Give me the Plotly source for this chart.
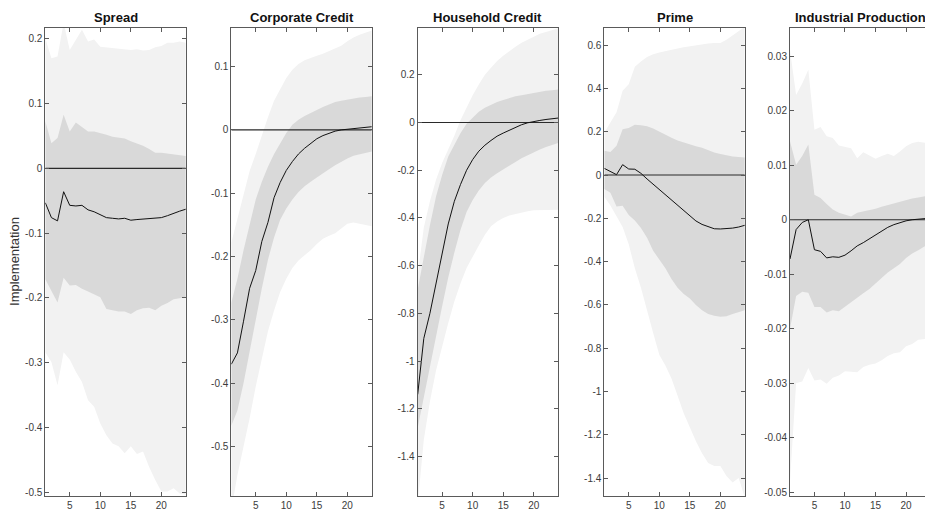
import plotly.graph_objects as go

# ---------------- data ----------------
horizon = list(range(1, 25))

panel_titles = ["Spread", "Corporate Credit", "Household Credit", "Prime", "Industrial Production"]
y_label = "Implementation"

spread_med = [-0.053, -0.076, -0.081, -0.036, -0.057, -0.058, -0.057, -0.064, -0.067, -0.072, -0.076, -0.077,
              -0.078, -0.077, -0.080, -0.079, -0.078, -0.078, -0.077, -0.076, -0.073, -0.069, -0.066, -0.063]
spread_in_up = [0.073, 0.039, 0.047, 0.083, 0.057, 0.071, 0.064, 0.057, 0.057, 0.055, 0.052, 0.049,
                0.048, 0.046, 0.042, 0.039, 0.035, 0.030, 0.024, 0.024, 0.023, 0.021, 0.020, 0.019]
spread_in_lo = [-0.171, -0.189, -0.207, -0.169, -0.181, -0.180, -0.186, -0.190, -0.194, -0.199, -0.217, -0.219,
                -0.221, -0.221, -0.225, -0.219, -0.216, -0.215, -0.219, -0.212, -0.208, -0.202, -0.200, -0.199]
spread_out_up = [0.201, 0.170, 0.173, 0.225, 0.183, 0.198, 0.214, 0.196, 0.199, 0.188, 0.187, 0.187,
                 0.186, 0.184, 0.183, 0.184, 0.182, 0.183, 0.187, 0.189, 0.194, 0.194, 0.196, 0.194]
spread_out_lo = [-0.284, -0.299, -0.335, -0.284, -0.295, -0.314, -0.330, -0.358, -0.368, -0.394, -0.412, -0.425,
                 -0.429, -0.440, -0.429, -0.441, -0.437, -0.461, -0.481, -0.499, -0.499, -0.494, -0.502, -0.504]

corp_med = [-0.370, -0.352, -0.302, -0.250, -0.222, -0.176, -0.146, -0.107, -0.083, -0.064, -0.050, -0.038,
            -0.029, -0.021, -0.014, -0.009, -0.005, -0.002, 0.000, 0.001, 0.002, 0.003, 0.004, 0.005]
corp_in_up = [-0.273, -0.235, -0.190, -0.148, -0.110, -0.082, -0.058, -0.038, -0.022, -0.005, 0.008, 0.016,
              0.022, 0.027, 0.032, 0.036, 0.040, 0.044, 0.046, 0.048, 0.050, 0.051, 0.052, 0.053]
corp_in_lo = [-0.467, -0.443, -0.400, -0.350, -0.300, -0.250, -0.205, -0.170, -0.142, -0.124, -0.110, -0.098,
              -0.089, -0.082, -0.075, -0.068, -0.062, -0.056, -0.050, -0.045, -0.041, -0.038, -0.036, -0.034]
corp_out_up = [-0.178, -0.140, -0.100, -0.065, -0.038, -0.008, 0.020, 0.046, 0.065, 0.082, 0.095, 0.104,
               0.110, 0.114, 0.117, 0.120, 0.124, 0.128, 0.133, 0.140, 0.146, 0.150, 0.154, 0.157]
corp_out_lo = [-0.600, -0.545, -0.500, -0.455, -0.405, -0.360, -0.318, -0.285, -0.256, -0.235, -0.218, -0.206,
               -0.198, -0.190, -0.180, -0.172, -0.167, -0.163, -0.155, -0.148, -0.146, -0.148, -0.150, -0.152]

hh_med = [-1.140, -0.905, -0.800, -0.675, -0.550, -0.425, -0.330, -0.260, -0.200, -0.155, -0.120, -0.095,
          -0.075, -0.057, -0.044, -0.032, -0.020, -0.009, -0.001, 0.005, 0.009, 0.013, 0.016, 0.019]
hh_in_up = [-0.700, -0.560, -0.430, -0.310, -0.220, -0.142, -0.090, -0.045, -0.005, 0.022, 0.045, 0.062,
            0.075, 0.086, 0.095, 0.103, 0.110, 0.115, 0.120, 0.125, 0.129, 0.133, 0.136, 0.139]
hh_in_lo = [-1.280, -1.160, -1.020, -0.900, -0.770, -0.650, -0.545, -0.450, -0.375, -0.325, -0.285, -0.253,
            -0.230, -0.212, -0.195, -0.180, -0.165, -0.150, -0.137, -0.125, -0.113, -0.102, -0.093, -0.086]
hh_out_up = [-0.640, -0.440, -0.330, -0.240, -0.170, -0.114, -0.055, 0.010, 0.065, 0.115, 0.160, 0.200,
             0.230, 0.258, 0.280, 0.300, 0.318, 0.335, 0.348, 0.360, 0.372, 0.380, 0.388, 0.395]
hh_out_lo = [-1.600, -1.330, -1.170, -1.040, -0.940, -0.840, -0.750, -0.675, -0.610, -0.560, -0.515, -0.470,
             -0.435, -0.415, -0.400, -0.390, -0.383, -0.378, -0.372, -0.368, -0.367, -0.366, -0.365, -0.365]

prime_med = [0.031, 0.018, 0.002, 0.048, 0.028, 0.027, 0.008, -0.018, -0.042, -0.065, -0.090, -0.113,
             -0.137, -0.160, -0.185, -0.212, -0.228, -0.238, -0.248, -0.249, -0.248, -0.245, -0.240, -0.232]
prime_in_up = [0.112, 0.107, 0.135, 0.212, 0.218, 0.233, 0.230, 0.225, 0.215, 0.200, 0.187, 0.173,
               0.160, 0.150, 0.140, 0.133, 0.126, 0.115, 0.104, 0.097, 0.090, 0.086, 0.083, 0.081]
prime_in_lo = [-0.064, -0.082, -0.145, -0.142, -0.185, -0.210, -0.245, -0.290, -0.350, -0.390, -0.430, -0.480,
               -0.520, -0.550, -0.570, -0.600, -0.625, -0.642, -0.650, -0.654, -0.652, -0.642, -0.632, -0.624]
prime_out_up = [0.196, 0.245, 0.290, 0.390, 0.420, 0.500, 0.525, 0.545, 0.558, 0.566, 0.573, 0.580,
                0.585, 0.590, 0.595, 0.600, 0.604, 0.608, 0.610, 0.610, 0.625, 0.645, 0.665, 0.685]
prime_out_lo = [-0.100, -0.140, -0.190, -0.240, -0.320, -0.430, -0.520, -0.620, -0.730, -0.830, -0.880, -0.940,
                -1.020, -1.100, -1.165, -1.230, -1.285, -1.330, -1.344, -1.344, -1.390, -1.420, -1.400, -1.490]

ip_med = [-0.0072, -0.0018, -0.0005, 0.0000, -0.0055, -0.0058, -0.0070, -0.0068, -0.0069, -0.0065, -0.0057, -0.0048,
          -0.0042, -0.0035, -0.0028, -0.0020, -0.0014, -0.0009, -0.0005, -0.0002, 0.0000, 0.0001, 0.0002, 0.0003]
ip_in_up = [0.0144, 0.0101, 0.0117, 0.0138, 0.0046, 0.0040, 0.0029, 0.0019, 0.0013, 0.0009, 0.0006, 0.0013,
            0.0015, 0.0017, 0.0020, 0.0024, 0.0027, 0.0031, 0.0034, 0.0037, 0.0039, 0.0041, 0.0043, 0.0045]
ip_in_lo = [-0.0200, -0.0140, -0.0132, -0.0134, -0.0160, -0.0160, -0.0170, -0.0166, -0.0168, -0.0160, -0.0152, -0.0143,
            -0.0135, -0.0127, -0.0117, -0.0107, -0.0097, -0.0089, -0.0081, -0.0070, -0.0062, -0.0056, -0.0049, -0.0045]
ip_out_up = [0.0311, 0.0229, 0.0250, 0.0275, 0.0165, 0.0170, 0.0153, 0.0150, 0.0136, 0.0133, 0.0131, 0.0113,
             0.0124, 0.0118, 0.0112, 0.0117, 0.0121, 0.0117, 0.0125, 0.0135, 0.0141, 0.0143, 0.0141, 0.0140]
ip_out_lo = [-0.0480, -0.0300, -0.0297, -0.0272, -0.0295, -0.0293, -0.0301, -0.0290, -0.0286, -0.0278, -0.0279, -0.0280,
             -0.0270, -0.0266, -0.0264, -0.0258, -0.0250, -0.0245, -0.0243, -0.0232, -0.0228, -0.0220, -0.0219, -0.0218]

x_tickvals = [5, 10, 15, 20]
x_ticktext = ["5", "10", "15", "20"]

spread_yticks = [0.2, 0.1, 0, -0.1, -0.2, -0.3, -0.4, -0.5]
spread_ytext = ["0.2", "0.1", "0", "-0.1", "-0.2", "-0.3", "-0.4", "-0.5"]
corp_yticks = [0.1, 0, -0.1, -0.2, -0.3, -0.4, -0.5]
corp_ytext = ["0.1", "0", "-0.1", "-0.2", "-0.3", "-0.4", "-0.5"]
hh_yticks = [0.2, 0, -0.2, -0.4, -0.6, -0.8, -1.0, -1.2, -1.4]
hh_ytext = ["0.2", "0", "-0.2", "-0.4", "-0.6", "-0.8", "-1", "-1.2", "-1.4"]
prime_yticks = [0.6, 0.4, 0.2, 0, -0.2, -0.4, -0.6, -0.8, -1.0, -1.2, -1.4]
prime_ytext = ["0.6", "0.4", "0.2", "0", "-0.2", "-0.4", "-0.6", "-0.8", "-1", "-1.2", "-1.4"]
ip_yticks = [0.03, 0.02, 0.01, 0, -0.01, -0.02, -0.03, -0.04, -0.05]
ip_ytext = ["0.03", "0.02", "0.01", "0", "-0.01", "-0.02", "-0.03", "-0.04", "-0.05"]

# ---------------- figure ----------------
W, H = 925, 515
FONT = "Liberation Sans, Arial, Helvetica, sans-serif"
OUTER = "#f2f2f2"
INNER = "#d9d9d9"
AXC = "#5a5a5a"
TXT = "#3c3c3c"

panels = [
    (spread_med, spread_in_up, spread_in_lo, spread_out_up, spread_out_lo, spread_yticks, spread_ytext, [-0.506, 0.217]),
    (corp_med, corp_in_up, corp_in_lo, corp_out_up, corp_out_lo, corp_yticks, corp_ytext, [-0.578, 0.161]),
    (hh_med, hh_in_up, hh_in_lo, hh_out_up, hh_out_lo, hh_yticks, hh_ytext, [-1.566, 0.397]),
    (prime_med, prime_in_up, prime_in_lo, prime_out_up, prime_out_lo, prime_yticks, prime_ytext, [-1.483, 0.680]),
    (ip_med, ip_in_up, ip_in_lo, ip_out_up, ip_out_lo, ip_yticks, ip_ytext, [-0.0507, 0.0352]),
]

left_px = [45.3, 231.3, 417.7, 604.3, 790.0]
width_px = 140.5
top_px, bot_px = 28.0, 498.0
ydom = [1 - bot_px / H, 1 - top_px / H]
px_per_unit = width_px / 23.0

fig = go.Figure()
layout = dict(
    width=W, height=H,
    margin=dict(l=0, r=0, t=0, b=0),
    paper_bgcolor="white", plot_bgcolor="white",
    showlegend=False,
    font=dict(family=FONT, size=10, color=TXT),
    annotations=[],
)

xs = horizon
for i, (med, iu, il, ou, ol, yt, ytt, yr) in enumerate(panels):
    k = i + 1
    xa = "x" if k == 1 else f"x{k}"
    ya = "y" if k == 1 else f"y{k}"
    fig.add_trace(go.Scatter(x=xs + xs[::-1], y=ou + ol[::-1], fill="toself", fillcolor=OUTER,
                             line=dict(width=0), mode="lines", hoverinfo="skip", xaxis=xa, yaxis=ya))
    fig.add_trace(go.Scatter(x=xs + xs[::-1], y=iu + il[::-1], fill="toself", fillcolor=INNER,
                             line=dict(width=0), mode="lines", hoverinfo="skip", xaxis=xa, yaxis=ya))
    fig.add_trace(go.Scatter(x=[xs[0], xs[-1]], y=[0, 0], mode="lines",
                             line=dict(color="#2a2a2a", width=1.1), hoverinfo="skip", xaxis=xa, yaxis=ya))
    fig.add_trace(go.Scatter(x=xs, y=med, mode="lines",
                             line=dict(color="#111111", width=1), hoverinfo="skip", xaxis=xa, yaxis=ya))

    x0 = left_px[i] / W
    last = (k == 5)
    if last:
        x1 = 1.0
        xr = [1, 1 + (W - left_px[i]) / px_per_unit]
    else:
        x1 = (left_px[i] + width_px) / W
        xr = [1, 24]
    xkey = "xaxis" if k == 1 else f"xaxis{k}"
    ykey = "yaxis" if k == 1 else f"yaxis{k}"
    layout[xkey] = dict(domain=[x0, x1], range=xr, anchor=ya, tickmode="array",
                        tickvals=x_tickvals, ticktext=x_ticktext, ticks="inside", ticklen=4,
                        tickcolor=AXC, showline=True, linecolor=AXC, linewidth=1, mirror="ticks",
                        showgrid=False, zeroline=False, tickfont=dict(size=10, color=TXT, family=FONT))
    layout[ykey] = dict(domain=ydom, range=yr, anchor=xa, tickmode="array",
                        tickvals=yt, ticktext=ytt, ticks="inside", ticklen=4,
                        tickcolor=AXC, showline=True, linecolor=AXC, linewidth=1,
                        mirror=(False if last else "ticks"),
                        showgrid=False, zeroline=False, tickfont=dict(size=10, color=TXT, family=FONT))
    cx = (left_px[i] + width_px / 2) / W
    layout["annotations"].append(dict(text="<b>" + panel_titles[i] + "</b>", x=cx, y=1 - 17.5 / H,
                                      xref="paper", yref="paper", xanchor="center", yanchor="middle",
                                      showarrow=False, font=dict(size=13, color="#111111", family=FONT)))

layout["annotations"].append(dict(text=y_label, x=15 / W, y=1 - 263 / H, xref="paper", yref="paper",
                                  xanchor="center", yanchor="middle", textangle=-90, showarrow=False,
                                  font=dict(size=13, color="#333333", family=FONT)))

fig.update_layout(**layout)
fig.write_html("out.html")
